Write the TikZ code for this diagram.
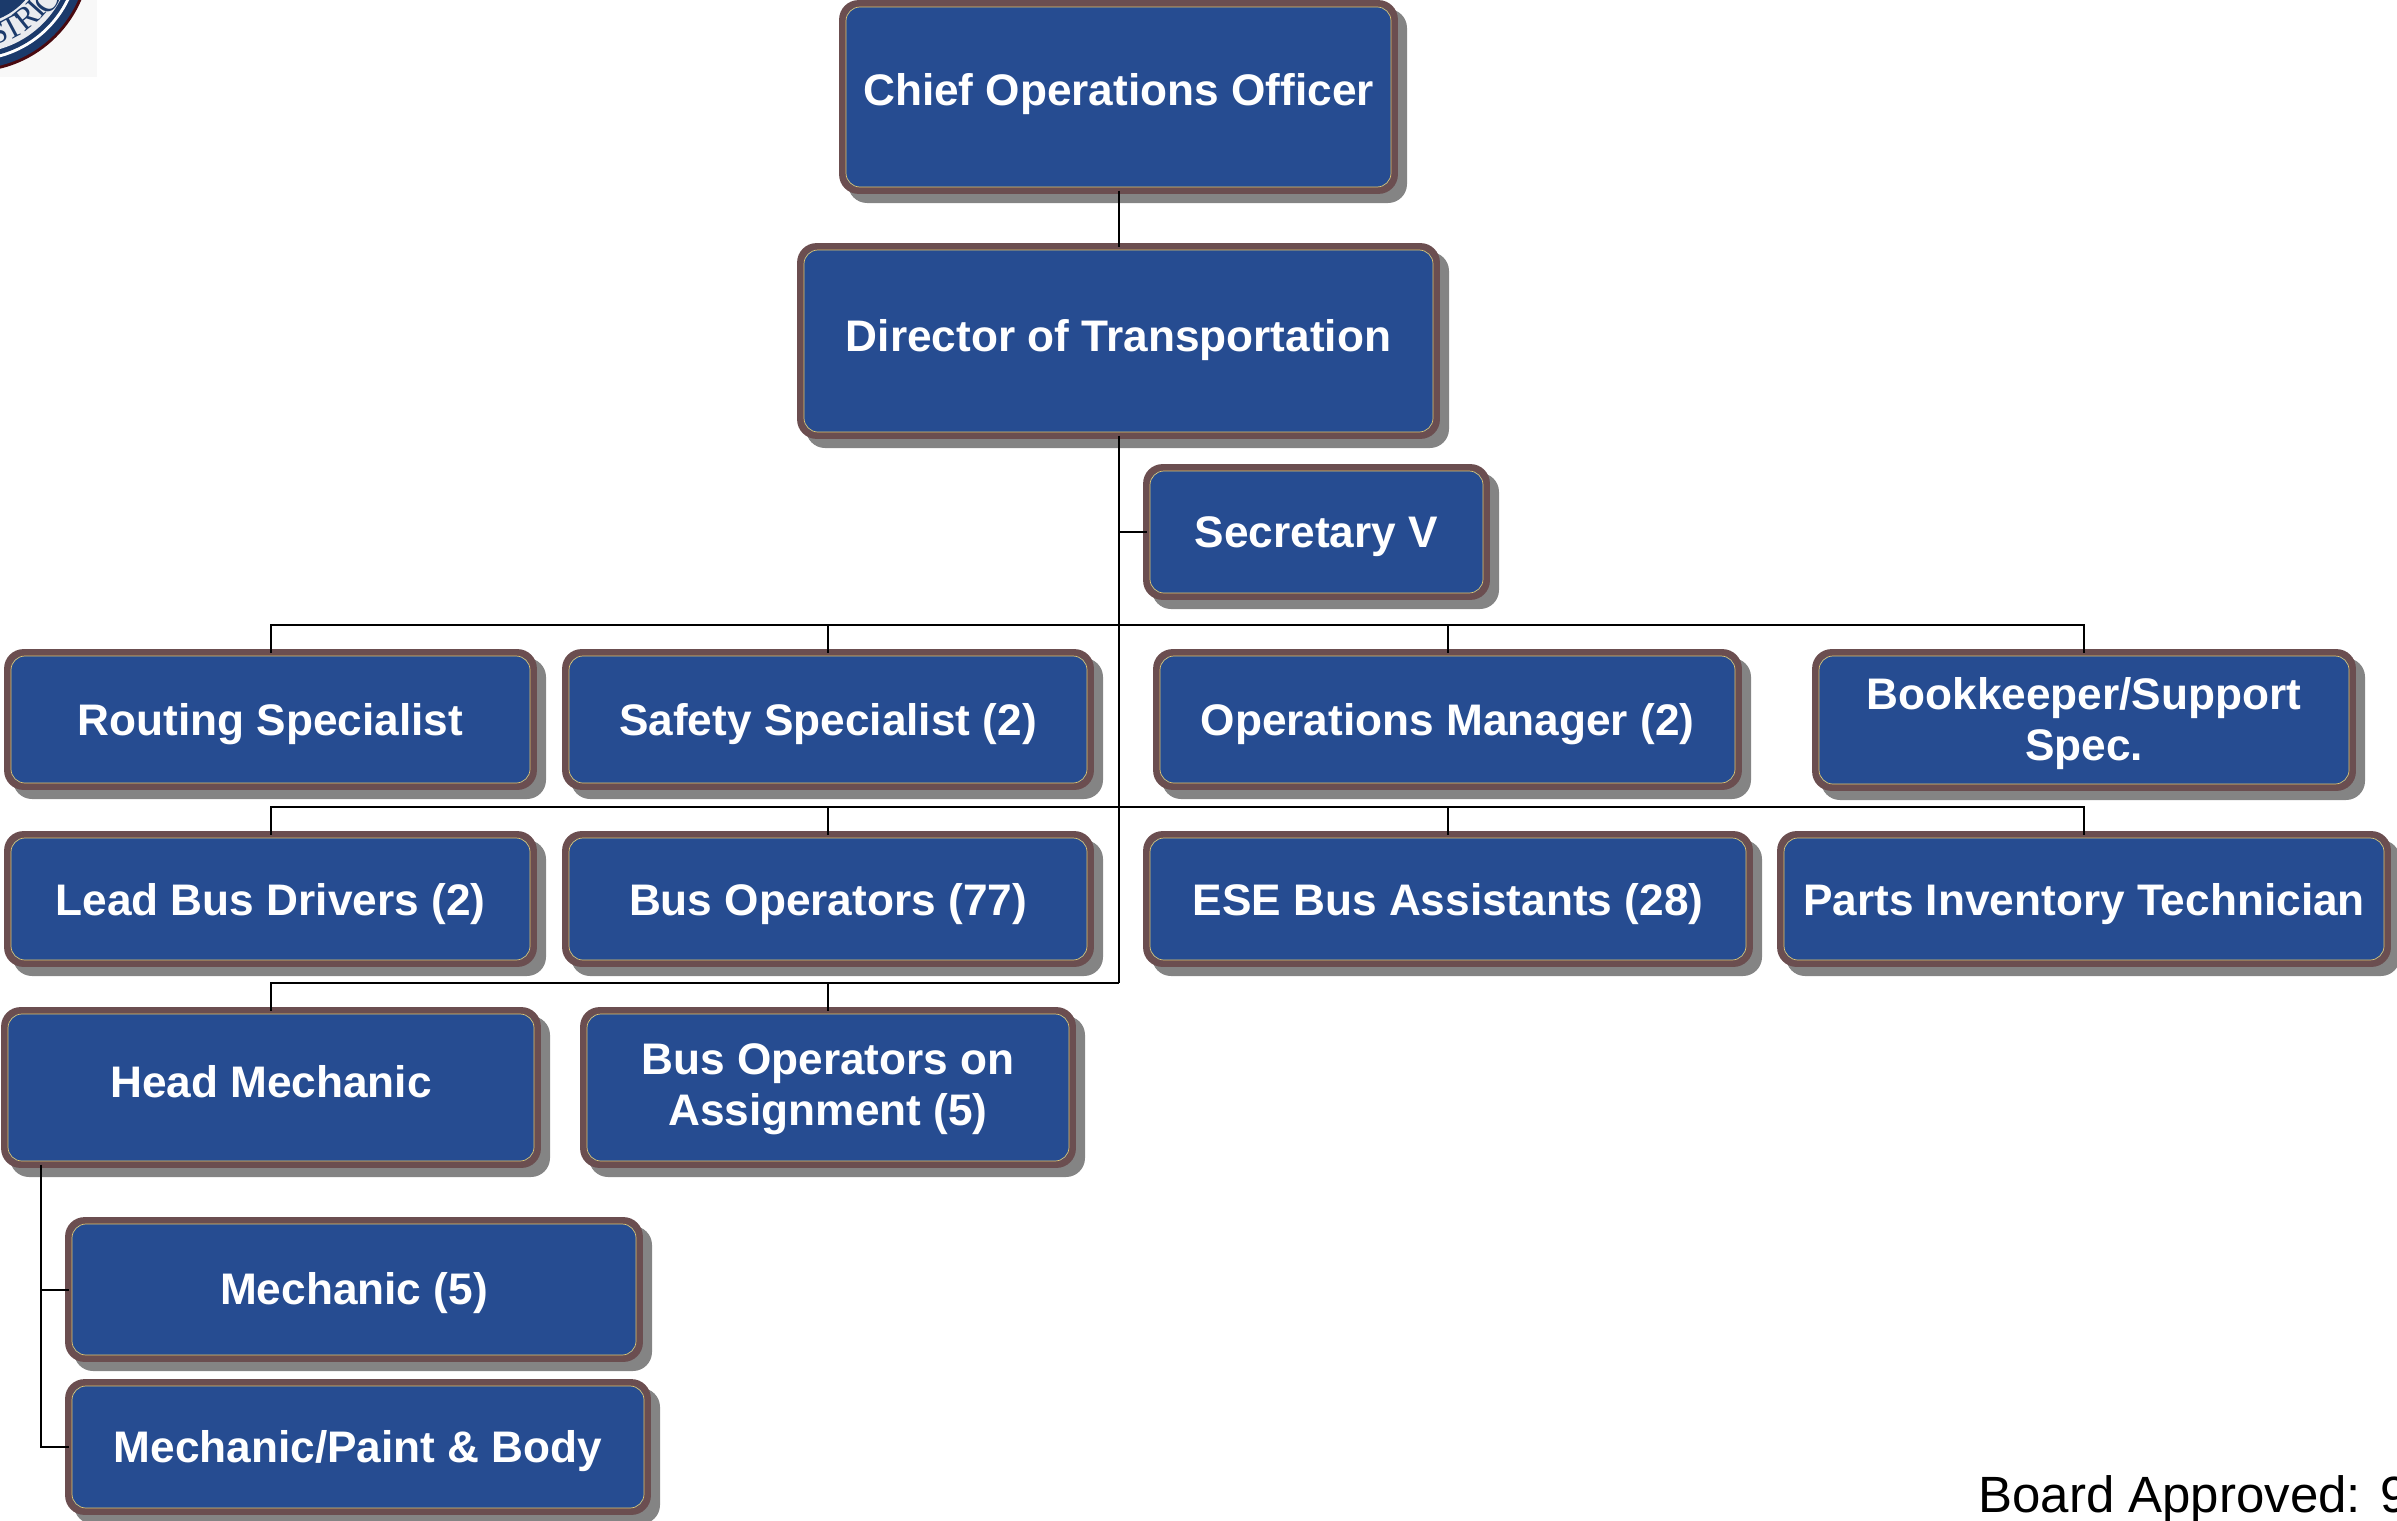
\documentclass[tikz,border=0pt]{standalone}
\usepackage{fontspec}
\setmainfont{Liberation Sans}
\newfontfamily\sealfont{Liberation Serif}
\definecolor{boxblue}{HTML}{264C91}
\definecolor{boxedge}{HTML}{6B4E50}
\definecolor{boxgold}{HTML}{E2C66E}
\definecolor{boxshade}{HTML}{848484}
\definecolor{sealbg}{HTML}{F8F8F8}
\definecolor{sealblue}{HTML}{1B3A6B}
\definecolor{sealred}{HTML}{4A0A10}
\definecolor{sealwhite}{HTML}{E9EBEF}
\tikzset{
  orgbox/.style={rectangle,rounded corners=8pt,fill=boxblue,draw=boxedge,line width=3.4pt,
    inner sep=0pt,outer sep=0pt,text=white,
    font=\fontsize{22.1}{25.8}\selectfont\bfseries},
  boxshadow/.style={fill=boxshade,rounded corners=9.5pt},
  goldline/.style={draw=boxgold,line width=0.35pt,rounded corners=7pt},
  link/.style={draw=black,line width=1pt},
  sealtext/.style={text=sealblue,font=\fontsize{16}{16}\selectfont\sealfont,inner sep=0pt}
}
% name, x1, y1, x2, y2, first baseline below centre (px), text
\newcommand{\orgnode}[7]{%
  \fill[boxshadow] (#2+9,#3+9) rectangle (#4+9,#5+9);
  \node[orgbox,minimum width={(#4-#2-7)*0.5pt},minimum height={(#5-#3-7)*0.5pt}] (#1) at ({(#2+#4)/2},{(#3+#5)/2})
    {\raisebox{\dimexpr-#6pt/2\relax}[0pt][0pt]{\begin{tabular}[t]{@{}c@{}}#7\end{tabular}}};
  \draw[goldline] (#2+7,#3+7) rectangle (#4-7,#5-7);
}
\begin{document}
\begin{tikzpicture}[x=0.5pt,y=-0.5pt]
\useasboundingbox (0,0) rectangle (2397,1520);
\clip (0,0) rectangle (2397,1520);
% seal
\fill[sealbg] (0,0) rectangle (97,77);
\fill[sealred] (-28,-47) circle[radius=119];
\fill[sealblue] (-28,-47) circle[radius=116];
\fill[white] (-28,-47) circle[radius=108];
\fill[sealblue] (-28,-47) circle[radius=105];
\fill[sealwhite] (-28,-47) circle[radius=100];
\fill[sealblue] (-28,-47) circle[radius=71];
\node[sealtext,rotate=19] (sealS) at (-1,33) {S};
\node[sealtext,rotate=28] (sealT) at (12,28) {T};
\node[sealtext,rotate=39] (sealR) at (26,18) {R};
\node[sealtext,rotate=48] (sealI) at (36,9) {I};
\node[sealtext,rotate=56] (sealC) at (47,2) {C};
% boxes
\orgnode{coo}{839}{0}{1398}{194}{9}{Chief Operations Officer}
\orgnode{dir}{797}{243}{1440}{439}{10}{Director of Transportation}
\orgnode{sec}{1143}{464}{1490}{600}{15}{Secretary V}
\orgnode{rout}{4}{649}{537}{790}{15.5}{Routing Specialist}
\orgnode{safe}{562}{649}{1094}{790}{15.5}{Safety Specialist (2)}
\orgnode{ops}{1153}{649}{1742}{790}{15.5}{Operations Manager (2)}
\orgnode{book}{1812}{649}{2356}{791}{-11}{Bookkeeper/Support\\Spec.}
\orgnode{lead}{4}{831}{537}{967}{16}{Lead Bus Drivers (2)}
\orgnode{bus}{562}{831}{1094}{967}{16}{Bus Operators (77)}
\orgnode{ese}{1143}{831}{1753}{967}{16}{ESE Bus Assistants (28)}
\orgnode{parts}{1777}{831}{2391}{967}{16}{Parts Inventory Technician}
\orgnode{head}{1}{1007}{541}{1168}{9.5}{Head Mechanic}
\orgnode{assign}{580}{1007}{1076}{1168}{-13.5}{Bus Operators on\\Assignment (5)}
\orgnode{mech}{65}{1217}{643}{1362}{15}{Mechanic (5)}
\orgnode{paint}{65}{1379}{651}{1515}{15}{Mechanic/Paint \& Body}
% connectors
\coordinate (bar1) at (1118.5,624.5);
\coordinate (bar2) at (1118.5,807);
\coordinate (bar3) at (1118.5,983);
\coordinate (hm) at (40.5,1289);
\draw[link] (coo.south) -- (dir.north);
\draw[link] (dir.south) -- (bar3);
\draw[link] (sec.west) -- (sec.west -| bar1);
\draw[link] (bar1) -| (rout.north);
\draw[link] (bar1) -| (safe.north);
\draw[link] (bar1) -| (ops.north);
\draw[link] (bar1) -| (book.north);
\draw[link] (bar2) -| (lead.north);
\draw[link] (bar2) -| (bus.north);
\draw[link] (bar2) -| (ese.north);
\draw[link] (bar2) -| (parts.north);
\draw[link] (bar3) -| (head.north);
\draw[link] (bar3) -| (assign.north);
\draw[link] (head.south -| hm) -- (paint.west -| hm) -- (paint.west);
\draw[link] (mech.west -| hm) -- (mech.west);
% footer
\node[anchor=base west,inner sep=0pt,font=\fontsize{25.5}{28}\selectfont] (approved) at (1978,1512) {Board Approved: 9};
\end{tikzpicture}
\end{document}
